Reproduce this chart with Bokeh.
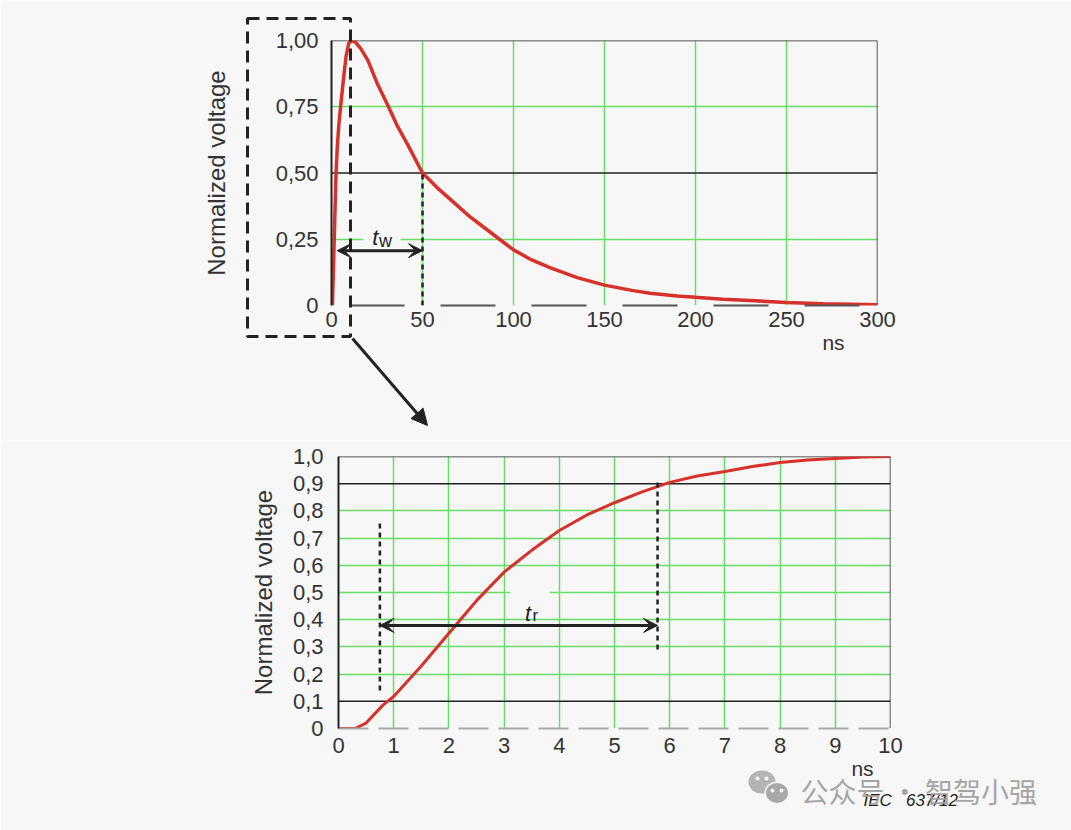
from bokeh.plotting import figure
from bokeh.models import (Range1d, FixedTicker, Span, Label, Arrow, VeeHead,
                          NormalHead, BoxAnnotation)
from bokeh.core.properties import value
from bokeh.embed import file_html
from bokeh.resources import INLINE

BG = "#f7f7f7"
GREEN = "#66dd66"
RED = "#d8302a"
INK = "#222222"
TXT = "#333333"
FONT = "Liberation Sans"
W, H = 1071, 830

# ---------------- data: top chart (full pulse) ----------------
pulse_t = [0.5, 1.0, 1.5, 2.0, 2.5, 3.2, 4, 5, 6.5, 8, 9.5, 11, 13, 16, 20,
           25, 31, 36, 42, 50, 58, 67, 76, 86, 100, 110, 120, 135, 150, 165,
           175, 190, 200, 215, 230, 250, 270, 285, 300]
pulse_v = [0.0, 0.12, 0.25, 0.38, 0.5, 0.6, 0.68, 0.75, 0.85, 0.94, 0.99,
           1.0, 0.995, 0.97, 0.925, 0.84, 0.755, 0.68, 0.605, 0.5, 0.445,
           0.39, 0.335, 0.283, 0.21, 0.172, 0.143, 0.105, 0.077, 0.057,
           0.046, 0.036, 0.031, 0.024, 0.019, 0.011, 0.007, 0.005, 0.003]
top_x_ticks = [0, 50, 100, 150, 200, 250, 300]
top_y_ticks = [0, 0.25, 0.5, 0.75, 1.0]
top_y_labels = ["0", "0,25", "0,50", "0,75", "1,00"]
top_green_x = [50, 100, 150, 200, 250]
top_green_y = [0.25, 0.75]
top_black_y = [0.5, 1.0]
tw_start, tw_end, tw_level = 3.1, 50, 0.207
tw_marker_top = 0.5

# ---------------- data: bottom chart (rise) ----------------
rise_t = [0, 0.3, 0.5, 0.8, 1, 1.5, 2, 2.5, 3, 3.5, 4, 4.5, 5, 5.5, 6, 6.5,
          7, 7.5, 8, 8.5, 9, 9.5, 10]
rise_v = [0, 0.0, 0.02, 0.085, 0.118, 0.23, 0.35, 0.47, 0.575, 0.655, 0.728,
          0.785, 0.83, 0.87, 0.905, 0.928, 0.945, 0.963, 0.978, 0.987, 0.993,
          0.998, 1.0]
bot_x_ticks = [0, 1, 2, 3, 4, 5, 6, 7, 8, 9, 10]
bot_y_ticks = [0, 0.1, 0.2, 0.3, 0.4, 0.5, 0.6, 0.7, 0.8, 0.9, 1.0]
bot_y_labels = ["0", "0,1", "0,2", "0,3", "0,4", "0,5", "0,6", "0,7", "0,8",
                "0,9", "1,0"]
bot_green_x = [1, 2, 3, 4, 5, 6, 7, 8, 9]
bot_green_y = [0.2, 0.3, 0.4, 0.5, 0.6, 0.7, 0.8]
bot_black_y = [0.1, 0.9, 1.0]
tr_start, tr_end, tr_level = 0.75, 5.78, 0.379
tr_left_span = (0.14, 0.76)
tr_right_span = (0.29, 0.91)

# ---------------- page decorations (page pixels) ----------------
zoom_box = dict(left=247, right=350, top=18, bottom=336)
pointer = dict(x_start=352, y_start=338, x_end=427, y_end=425)
unit_labels = [("ns", 833, 342), ("ns", 862, 768)]
source_tag = ("IEC\u00a0\u00a0\u00a0637/12", 863, 800)
watermark = ("公众号 · 智驾小强", 800, 790)
bubbles = [(761.5, 781.5, 27, 23, "#b4b4b4"), (776.5, 792.5, 25, 23, BG),
           (776.5, 792.5, 22, 20, "#a8a8a8")]
bubble_eyes = [(757, 778), (766, 778), (772, 790), (781, 790)]


def make_fig(width, height, xr, yr, left, right, top, bottom):
    p = figure(width=width, height=height, x_range=Range1d(*xr),
               y_range=Range1d(*yr), output_backend="svg",
               toolbar_location=None, min_border_left=left,
               min_border_right=right, min_border_top=top,
               min_border_bottom=bottom, background_fill_color=BG,
               border_fill_color=BG, outline_line_color=None)
    for ax in (p.xaxis[0], p.yaxis[0]):
        ax.major_tick_line_color = None
        ax.minor_tick_line_color = None
        ax.major_label_text_font = FONT
        ax.major_label_text_font_size = "22px"
        ax.major_label_text_color = TXT
    return p


def style_common(p, xticks, yticks, ylabels, gx, gy, blacks, xmax,
                 ystandoff, lstandoff, xstandoff, xdash, xdash_off, xcolor):
    p.xaxis.ticker = FixedTicker(ticks=xticks)
    p.yaxis.ticker = FixedTicker(ticks=yticks)
    p.yaxis.major_label_overrides = {k: v for k, v in zip(yticks, ylabels)}
    p.yaxis.major_label_standoff = ystandoff
    p.xaxis.major_label_standoff = xstandoff
    p.yaxis.axis_label = "Normalized voltage"
    p.yaxis.axis_label_text_font = FONT
    p.yaxis.axis_label_text_font_style = "normal"
    p.yaxis.axis_label_text_font_size = "24px"
    p.yaxis.axis_label_text_color = TXT
    p.yaxis.axis_label_standoff = lstandoff
    p.yaxis.axis_line_color = INK
    p.yaxis.axis_line_width = 2
    p.xaxis.axis_line_color = xcolor
    p.xaxis.axis_line_width = 2
    p.xaxis.axis_line_dash = xdash
    p.xaxis.axis_line_dash_offset = xdash_off
    p.xgrid.ticker = FixedTicker(ticks=gx)
    p.ygrid.ticker = FixedTicker(ticks=gy)
    for g in (p.xgrid[0], p.ygrid[0]):
        g.grid_line_color = GREEN
        g.grid_line_width = 1.5
    for y in blacks:
        p.add_layout(Span(location=y, dimension="width", line_color=INK,
                          line_width=1.5, level="underlay"))
    p.add_layout(Span(location=xmax, dimension="height", line_color=INK,
                      line_width=1.5, level="underlay"))


def head():
    return VeeHead(size=14, fill_color=INK, line_color=INK, line_width=1)


# ---------------- top figure ----------------
p1 = make_fig(W, 440, (0, 300), (0, 1), 331, 194, 40, 135)
style_common(p1, top_x_ticks, top_y_ticks, top_y_labels, top_green_x,
             top_green_y, top_black_y, 300, 7, 43, 0, "55 36", 73, "#555555")
p1.line(pulse_t, pulse_v, line_color=RED, line_width=3.5)
p1.segment(x0=[tw_end], y0=[0], x1=[tw_end], y1=[tw_marker_top],
           line_color=INK, line_width=2.5, line_dash="5 4")
p1.add_layout(Arrow(start=head(), end=head(), x_start=tw_start,
                    y_start=tw_level, x_end=tw_end, y_end=tw_level,
                    line_color=INK, line_width=3))
p1.add_layout(BoxAnnotation(left=17.6, right=37.9, bottom=0.235, top=0.265,
                            fill_color=BG, fill_alpha=1, line_color=None))
p1.add_layout(Label(x=22.4, y=0.258, text="t", text_font=FONT,
                    text_font_style="italic", text_font_size="22px",
                    text_color=INK, text_baseline="alphabetic"))
p1.add_layout(Label(x=26.1, y=0.245, text="w", text_font=FONT,
                    text_font_size="18px", text_color=INK,
                    text_baseline="alphabetic"))

# ---------------- bottom figure ----------------
p2 = make_fig(W, 390, (0, 10), (0, 1), 338, 181, 16, 102)
style_common(p2, bot_x_ticks, bot_y_ticks, bot_y_labels, bot_green_x,
             bot_green_y, bot_black_y, 10, 9, 13, 3, "30 10", 0, "#aaaaaa")
p2.line(rise_t, rise_v, line_color=RED, line_width=3)
p2.segment(x0=[tr_start, tr_end], y0=[tr_left_span[0], tr_right_span[0]],
           x1=[tr_start, tr_end], y1=[tr_left_span[1], tr_right_span[1]],
           line_color=INK, line_width=2.5, line_dash="5 4")
p2.add_layout(Arrow(start=head(), end=head(), x_start=tr_start,
                    y_start=tr_level, x_end=tr_end, y_end=tr_level,
                    line_color=INK, line_width=3))
p2.add_layout(BoxAnnotation(left=3.11, right=3.83, bottom=0.485, top=0.515,
                            fill_color=BG, fill_alpha=1, line_color=None))
p2.add_layout(Label(x=3.38, y=0.423, text="t", text_font=FONT,
                    text_font_style="italic", text_font_size="22px",
                    text_color=INK, text_baseline="alphabetic"))
p2.add_layout(Label(x=3.515, y=0.415, text="r", text_font=FONT,
                    text_font_size="17px", text_color=INK,
                    text_baseline="alphabetic"))

# ---------------- transparent overlay for page-level decorations ----------------
p3 = figure(width=W, height=H, x_range=Range1d(0, W), y_range=Range1d(H, 0),
            output_backend="svg", toolbar_location=None, min_border=0,
            background_fill_alpha=0, border_fill_alpha=0,
            outline_line_color=None,
            styles={"position": "absolute", "top": "0px", "left": "0px"})
p3.axis.visible = False
p3.grid.visible = False
p3.quad(left=[zoom_box["left"]], right=[zoom_box["right"]],
        top=[zoom_box["top"]], bottom=[zoom_box["bottom"]], fill_alpha=0,
        line_color=INK, line_width=3, line_dash="12 7")
p3.add_layout(Arrow(end=NormalHead(size=16, fill_color=INK, line_color=INK),
                    line_color=INK, line_width=3, **pointer))
for txt, x, y in unit_labels:
    p3.text(x=[x], y=[y], text=[txt], text_font=value(FONT),
            text_font_size="21px", text_color=TXT, text_align="center",
            text_baseline="middle")
p3.text(x=[source_tag[1]], y=[source_tag[2]], text=[source_tag[0]],
        text_font=value(FONT), text_font_style="italic",
        text_font_size="17px", text_color=INK, text_baseline="middle")
for cx, cy, ew, eh, col in bubbles:
    p3.ellipse(x=[cx], y=[cy], width=[ew], height=[eh], fill_color=col,
               line_color=None)
p3.scatter(x=[e[0] for e in bubble_eyes], y=[e[1] for e in bubble_eyes],
           size=4, fill_color=BG, line_color=None)
p3.text(x=[watermark[1]], y=[watermark[2]], text=[watermark[0]],
        text_font=value("Noto Sans CJK SC"), text_font_size="28px",
        text_color="#9a9a9a", text_alpha=0.9, text_baseline="middle")

open("out.html", "w").write(file_html([p1, p2, p3], INLINE))
